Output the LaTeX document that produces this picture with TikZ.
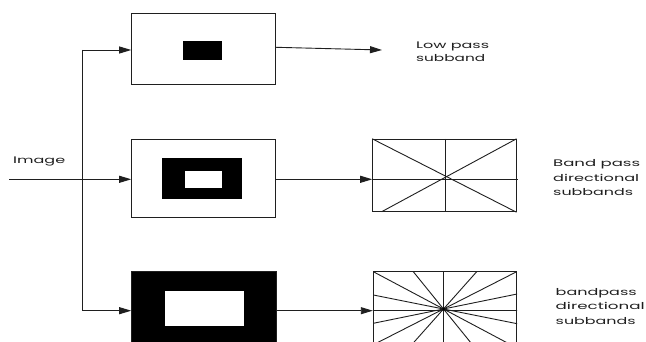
\documentclass[tikz,border=0pt]{standalone}
\usepackage{fontspec}
\usepackage{graphicx}
\setmainfont{Poppins}
\usetikzlibrary{arrows.meta,calc}
\newcommand{\tw}[2]{\resizebox{#1pt}{\height}{#2}}
\begin{document}
\begin{tikzpicture}[x=1pt,y=-1pt,
  ln/.style={draw=black!88, line width=0.9pt},
  arr/.style={ln, -{Triangle[length=12pt,width=7pt]}},
  frame/.style={draw=black!88, line width=1pt, inner sep=0pt, fill=white},
  blk/.style={fill=black, draw=none, inner sep=0pt},
  wht/.style={fill=white, draw=none, inner sep=0pt},
  txt/.style={anchor=base west, inner sep=0pt, text=black!88, font=\fontsize{9.5}{11}\selectfont}
]
\useasboundingbox (0,0) rectangle (646,342);
\clip (0,0) rectangle (646,342);
\fill[white] (0,0) rectangle (646,342);

% boxes
\node[frame, minimum width=144pt, minimum height=71pt] (b1) at (203.7,48.8) {};
\node[blk, minimum width=39pt, minimum height=19pt] (b1in) at (202.5,50.2) {};

\node[frame, minimum width=144pt, minimum height=78pt] (b2) at (203.7,178.3) {};
\node[blk, minimum width=80pt, minimum height=41.3pt] (b2out) at (201.7,178.3) {};
\node[wht, minimum width=36.7pt, minimum height=16.7pt] (b2in) at (203.3,179.3) {};

\node[frame, fill=black, minimum width=144.6pt, minimum height=78pt] (b3) at (204,310.7) {};
\node[wht, minimum width=78.4pt, minimum height=34.7pt] (b3in) at (204.5,308.3) {};

% grid boxes
\node[frame, minimum width=143.3pt, minimum height=72.4pt] (g2) at (444.35,175.5) {};
\node[frame, minimum width=143.4pt, minimum height=72.3pt] (g3) at (445,307.85) {};

% grid 2 lines
\coordinate (m2) at (0,179.3);
\coordinate (g2bl) at (381.7,211.7);
\coordinate (g2hend) at (518.3,179.3);
\draw[ln] (g2.north west) -- (g2.south east);
\draw[ln] (g2.north east) -- (g2bl);
\draw[ln] ($(g2.north)+(0.65,0)$) -- ($(g2.south)+(0.65,0)$);
\draw[ln] (m2 -| g2.west) -- (g2hend);

% grid 3 lines
\coordinate (c3) at (443.5,309);
\begin{scope}
\clip (g3.north west) rectangle (g3.south east);
\foreach \px/\py in {373.3/271.7,413.3/271.7,476.7/271.7,516.7/271.7,373.3/295,373.3/323.3}{
  \coordinate (pp) at (\px,\py);
  \draw[ln] (pp) -- ($(pp)!3!(c3)$);
}
\draw[ln] (443,260) -- (443,360);
\draw[ln] (360,310.5) -- (530,310.5);
\end{scope}
\fill[black] (c3) circle (1.5pt);
\node[frame, fill=none, minimum width=143.4pt, minimum height=72.3pt] (g3b) at (445,307.85) {};

% connectors
\coordinate (in) at (9,179.3);
\coordinate (top) at (82,50);
\coordinate (bot) at (82,310.7);
\coordinate (lpend) at (382,50);
\draw[ln] (top) -- (bot);
\draw[arr] (in) -- (in -| b2.west);
\draw[arr] (top) -- (top -| b1.west);
\draw[arr] (bot) -- (bot -| b3.west);
\draw[arr] ($(b1.east)+(0,-1.5)$) -- (lpend);
\draw[arr] (m2 -| b2.east) -- (m2 -| g2.west);
\draw[arr] (bot -| b3.east) -- (bot -| g3.west);

% texts
\node[txt] (timg) at (13,164) {\tw{52}{Image}};
\node[txt] (tlp1) at (416,48.3) {\tw{73}{Low pass}};
\node[txt] (tlp2) at (416,62) {\tw{69}{subband}};
\node[txt] (tbp1) at (553,166.7) {\tw{87}{Band pass}};
\node[txt] (tbp2) at (553,181.2) {\tw{86}{directional}};
\node[txt] (tbp3) at (553,195.5) {\tw{80}{subbands}};
\node[txt] (tdp1) at (555.5,295.3) {\tw{81}{bandpass}};
\node[txt] (tdp2) at (555.5,309.6) {\tw{89}{directional}};
\node[txt] (tdp3) at (555.5,324) {\tw{80}{subbands}};
\end{tikzpicture}
\end{document}
